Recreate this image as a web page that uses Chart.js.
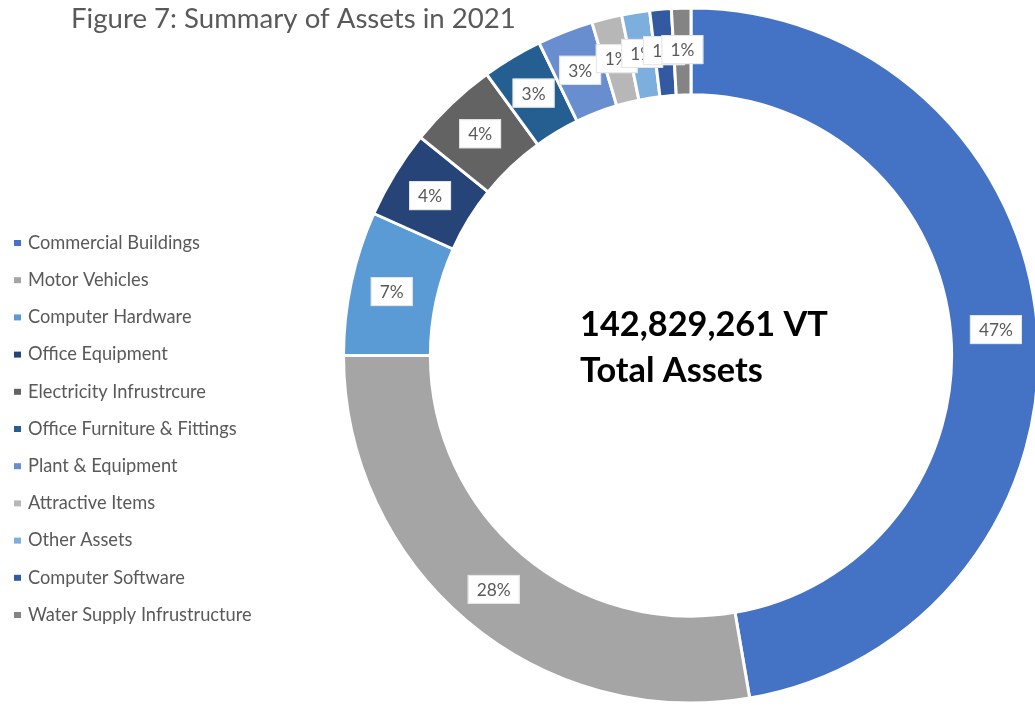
<!DOCTYPE html>
<html lang="en">

<head>
    <meta charset="UTF-8">
    <title>Figure 7: Summary of Assets in 2021</title>
    <script src="https://cdn.jsdelivr.net/npm/chart.js@4.4.0/dist/chart.umd.min.js"></script>
    <style>
        body { margin: 0; overflow: hidden; background: #fff; }
    </style>
</head>

<body>
    <canvas id="chart" width="1040" height="710"></canvas>
    <script>
        // asset categories and their share of total assets (%)
        const categories = [
            'Commercial Buildings', 'Motor Vehicles', 'Computer Hardware', 'Office Equipment',
            'Electricity Infrustrcure', 'Office Furniture & Fittings', 'Plant & Equipment',
            'Attractive Items', 'Other Assets', 'Computer Software', 'Water Supply Infrustructure'
        ];
        const shares = [47.3, 27.7, 6.7, 4.1, 4.2, 2.8, 2.6, 1.4, 1.3, 1.0, 0.9];
        const colors = ['#4472C4', '#A5A5A5', '#5B9BD5', '#264478', '#636363', '#255E91',
            '#698ED0', '#B7B7B7', '#7CAFDD', '#335AA1', '#848484'];
        const chartTitle = 'Figure 7: Summary of Assets in 2021';
        const centerLines = ['142,829,261 VT', 'Total Assets'];

        const FONT = 'Lato, "Open Sans", sans-serif';

        // font size that makes text span the given width
        const fitFont = (ctx, text, weight, width) => {
            ctx.font = `${weight} 100px ${FONT}`;
            return 100 * width / ctx.measureText(text).width;
        };

        const extras = {
            id: 'extras',
            afterDatasetsDraw(chart) {
                const ctx = chart.ctx,
                    meta = chart.getDatasetMeta(0);
                ctx.save();

                // percentage boxes
                const lblSize = fitFont(ctx, '47%', 'normal', 34);
                ctx.font = `${lblSize}px ${FONT}`;
                ctx.textAlign = 'center';
                ctx.textBaseline = 'middle';
                meta.data.forEach((arc, i) => {
                    const p = arc.getProps(['x', 'y', 'startAngle', 'endAngle']),
                        mid = (p.startAngle + p.endAngle) / 2,
                        r = 306,
                        x = p.x + Math.cos(mid) * r,
                        y = p.y + Math.sin(mid) * r,
                        text = Math.round(shares[i]) + '%',
                        w = ctx.measureText(text).width + 18,
                        h = 29;
                    ctx.fillStyle = '#fff';
                    ctx.fillRect(x - w / 2, y - h / 2, w, h);
                    ctx.strokeStyle = '#e4e4e4';
                    ctx.lineWidth = 1;
                    ctx.strokeRect(x - w / 2 + 0.5, y - h / 2 + 0.5, w - 1, h - 1);
                    ctx.fillStyle = '#595959';
                    ctx.fillText(text, x, y + 1);
                });

                // title
                ctx.textAlign = 'left';
                ctx.textBaseline = 'alphabetic';
                ctx.fillStyle = '#595959';
                ctx.font = `${fitFont(ctx, chartTitle, 'normal', 445)}px ${FONT}`;
                ctx.fillText(chartTitle, 71, 28);

                // centre text
                ctx.fillStyle = '#000';
                const cs = fitFont(ctx, centerLines[0], 'bold', 248);
                ctx.font = `bold ${cs}px ${FONT}`;
                ctx.fillText(centerLines[0], 580, 336);
                ctx.fillText(centerLines[1], 580, 382);

                // legend
                const ls = fitFont(ctx, categories[0], 'normal', 172);
                ctx.font = `${ls}px ${FONT}`;
                ctx.textBaseline = 'middle';
                categories.forEach((c, i) => {
                    const y = 243 + i * 37.2;
                    ctx.fillStyle = colors[i];
                    ctx.fillRect(14, y - 3, 7, 6);
                    ctx.fillStyle = '#595959';
                    ctx.fillText(c, 28, y);
                });
                ctx.restore();
            }
        };

        new Chart(document.getElementById('chart').getContext('2d'), {
            type: 'doughnut',
            data: {
                labels: categories,
                datasets: [{
                    data: shares,
                    backgroundColor: colors,
                    borderColor: '#fff',
                    borderWidth: 3
                }]
            },
            options: {
                responsive: false,
                animation: false,
                cutout: '75%',
                layout: { padding: { left: 342, top: 6, right: 0, bottom: 5 } },
                plugins: {
                    legend: { display: false },
                    tooltip: { enabled: false }
                }
            },
            plugins: [extras]
        });
    </script>
</body>

</html>
